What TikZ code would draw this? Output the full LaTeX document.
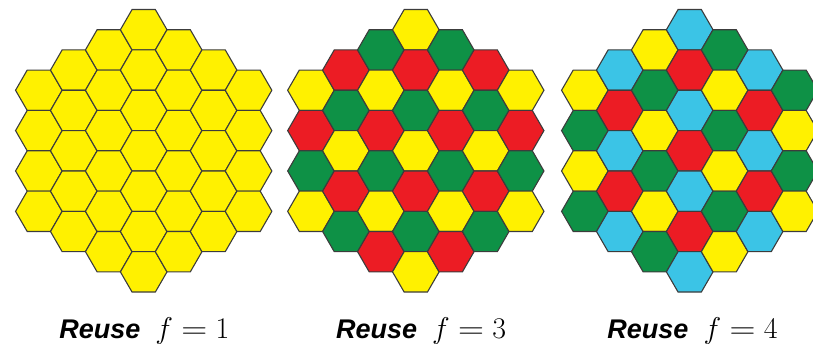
\documentclass[tikz,border=0pt]{standalone}
\usepackage{fontspec}
\newfontfamily\arialfont{Liberation Sans}
\definecolor{hex0}{HTML}{FFF100}
\definecolor{hex1}{HTML}{EC1C24}
\definecolor{hex2}{HTML}{0E9146}
\definecolor{hex3}{HTML}{3BC4E6}
\definecolor{hexedge}{HTML}{3C3C3C}
\newcommand\reuselabel[1]{{\fontsize{27}{32}\selectfont\arialfont\bfseries\itshape Reuse}\hspace{15pt}\scalebox{1.2057}{\Huge$f\mathrel{\scalebox{1.2}[1]{$=$}}#1$}}
\tikzset{
  hexline/.style={draw=hexedge, line width=1.1pt, line join=miter},
  lab/.style={anchor=base, inner sep=0pt}
}
\begin{document}
\begin{tikzpicture}[x=1pt,y=-1pt]
\useasboundingbox (0,0) rectangle (813,344);
\clip (0,0) rectangle (813,344);
\def\R{23.3}
\pgfmathsetmacro\H{sqrt(3)*\R}
\foreach \cx/\cmode in {143.7/1, 415.8/3, 689.7/4} {
  \foreach \q in {-3,...,3} {
    \pgfmathtruncatemacro\rmin{max(-3,-3-\q)}
    \pgfmathtruncatemacro\rmax{min(3,3-\q)}
    \foreach \rr in {\rmin,...,\rmax} {
      \pgfmathsetmacro\hx{\cx+1.5*\R*\q}
      \pgfmathsetmacro\hy{150.8+\H*(\rr+\q/2)}
      \ifnum\cmode=1 \def\k{0}\fi
      \ifnum\cmode=3 \pgfmathtruncatemacro\k{mod(\rr+2*\q+30,3)}\fi
      \ifnum\cmode=4
        \pgfmathtruncatemacro\qa{mod(\q+10,2)}
        \pgfmathtruncatemacro\ra{mod(\rr+10,2)}
        \pgfmathtruncatemacro\k{1-\qa+2*\ra}
      \fi
      \filldraw[hexline, fill=hex\k] (\hx,\hy) +(0:\R) -- +(60:\R) -- +(120:\R) -- +(180:\R) -- +(240:\R) -- +(300:\R) -- cycle;
    }
  }
}
\node[lab] (lab1) at (144.3,338.5) {\reuselabel{1}};
\node[lab] (lab2) at (421.2,338.5) {\reuselabel{3}};
\node[lab] (lab3) at (692.5,338.5) {\reuselabel{4}};
\end{tikzpicture}
\end{document}
